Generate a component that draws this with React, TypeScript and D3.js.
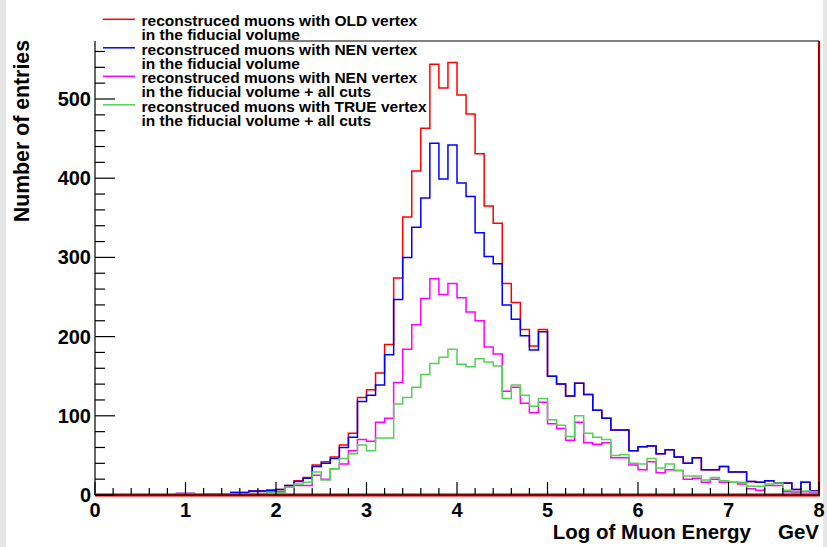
import React from 'react';
import * as d3 from 'd3';

const binEdges = d3.range(81).map((i) => i / 10);
const xTickValues = [0, 1, 2, 3, 4, 5, 6, 7, 8];
const yTickValues = [0, 100, 200, 300, 400, 500];

const oldVertex = [
  0, 0, 0, 0, 0, 0, 0, 0, 0, 2,
  2, 0, 1, 1, 1, 3, 3, 5, 5, 6,
  7, 12, 18, 22, 38, 42, 48, 63, 78, 123,
  133, 154, 190, 274, 351, 409, 463, 544, 514, 546,
  505, 481, 431, 365, 343, 267, 243, 209, 188, 209,
  150, 140, 125, 141, 127, 107, 97, 82, 82, 56,
  61, 62, 52, 57, 48, 40, 47, 32, 32, 36,
  29, 29, 17, 16, 18, 15, 15, 7, 16, 5,
];
const nenVertex = [
  0, 0, 0, 0, 0, 0, 0, 0, 0, 2,
  2, 0, 1, 1, 1, 3, 3, 5, 5, 6,
  7, 12, 17, 21, 36, 40, 46, 60, 73, 118,
  126, 139, 177, 247, 300, 338, 375, 444, 399, 442,
  394, 377, 331, 301, 292, 240, 222, 201, 183, 206,
  150, 140, 125, 141, 127, 107, 97, 82, 82, 56,
  61, 62, 52, 57, 48, 40, 47, 32, 32, 36,
  29, 29, 17, 16, 18, 15, 15, 7, 16, 5,
];
const nenVertexCuts = [
  0, 0, 0, 0, 0, 0, 0, 0, 0, 1,
  1, 0, 0, 1, 0, 1, 1, 2, 2, 4,
  4, 10, 12, 12, 25, 20, 33, 39, 56, 70,
  68, 92, 97, 142, 184, 215, 248, 273, 253, 267,
  249, 231, 220, 187, 178, 131, 136, 116, 104, 117,
  90, 84, 69, 92, 66, 64, 66, 47, 47, 38,
  32, 42, 28, 32, 31, 20, 21, 16, 20, 16,
  16, 14, 8, 6, 12, 12, 4, 3, 4, 3,
];
const trueVertexCuts = [
  0, 0, 0, 0, 0, 0, 0, 0, 0, 1,
  1, 1, 1, 1, 1, 1, 1, 2, 2, 3,
  3, 10, 14, 16, 29, 19, 33, 46, 52, 63,
  56, 72, 72, 115, 123, 136, 152, 166, 174, 184,
  165, 162, 172, 168, 163, 122, 139, 126, 112, 122,
  95, 88, 74, 100, 78, 73, 70, 50, 51, 40,
  39, 46, 34, 39, 31, 24, 24, 19, 22, 18,
  16, 16, 11, 11, 14, 15, 6, 4, 5, 4,
];

const seriesValues = [oldVertex, nenVertex, nenVertexCuts, trueVertexCuts];
const seriesColors = ['#ff0000', '#0000ff', '#ff00ff', '#55d055'];
const legendLine1 = [
  'reconstruced muons with OLD vertex',
  'reconstruced muons with NEN vertex',
  'reconstruced muons with NEN vertex',
  'reconstruced muons with TRUE vertex',
];
const legendLine2 = [
  'in the fiducial volume',
  'in the fiducial volume',
  'in the fiducial volume + all cuts',
  'in the fiducial volume + all cuts',
];

const W = 827;
const H = 547;
const FONT = "'Liberation Sans', Arial, Helvetica, sans-serif";

export default function App() {
  const x = d3.scaleLinear().domain([0, 8]).range([95, 819]);
  const y = d3.scaleLinear().domain([0, 500]).range([495, 99]);
  const yTop = 41;

  const line = d3
    .line<[number, number]>()
    .x((d) => x(d[0]))
    .y((d) => y(d[1]))
    .curve(d3.curveStepAfter);

  const paths = seriesValues.map((vals) => {
    const pts: [number, number][] = [[0, 0]];
    vals.forEach((v, i) => pts.push([binEdges[i], v]));
    pts.push([8, vals[vals.length - 1]]);
    pts.push([8, 0]);
    return line(pts) || '';
  });

  const yMinor = d3.range(0, 561, 20).filter((v) => v % 100 !== 0);
  const xMinor = d3.range(0, 8.001, 0.2).filter((v) => Math.abs(v - Math.round(v)) > 1e-6);

  return (
    <svg
      width={W}
      height={H}
      style={{ position: 'absolute', left: 0, top: 0, background: '#fff' }}
      fontFamily={FONT}
      fontWeight="bold"
    >
      <rect x={0} y={0} width={W} height={H} fill="#fff" />
      <rect x={0} y={0} width={6} height={H} fill="#e6e6e6" />
      <rect x={823} y={0} width={4} height={H} fill="#e6e6e6" />

      {paths.map((p, i) => (
        <path key={i} d={p} fill="none" stroke={seriesColors[i]} strokeWidth={1.5} />
      ))}

      {/* frame */}
      <line x1={278} x2={819} y1={yTop} y2={yTop} stroke="#000" strokeWidth={1.2} />
      <line x1={819} x2={819} y1={yTop} y2={495} stroke="#a00000" strokeWidth={2.2} />
      <line x1={95} x2={95} y1={yTop} y2={495} stroke="#000" strokeWidth={1.2} />
      <line x1={95} x2={820} y1={495} y2={495} stroke="#ff3030" strokeWidth={3.5} />
      <line x1={95} x2={820} y1={495} y2={495} stroke="#400000" strokeWidth={1.5} />

      {/* y ticks */}
      {yTickValues.map((v) => (
        <line key={'ym' + v} x1={95} x2={115} y1={y(v)} y2={y(v)} stroke="#000" strokeWidth={1.2} />
      ))}
      {yMinor.map((v) => (
        <line key={'yn' + v} x1={95} x2={105} y1={y(v)} y2={y(v)} stroke="#000" strokeWidth={1.2} />
      ))}
      {yTickValues.map((v) => (
        <text key={'yl' + v} x={91} y={y(v) + 7} textAnchor="end" fontSize={20} fill="#000">
          {v}
        </text>
      ))}

      {/* x ticks */}
      {xTickValues.map((v) => (
        <line key={'xm' + v} x1={x(v)} x2={x(v)} y1={495} y2={482} stroke="#000" strokeWidth={1.2} />
      ))}
      {xMinor.map((v, i) => (
        <line key={'xn' + i} x1={x(v)} x2={x(v)} y1={495} y2={488} stroke="#000" strokeWidth={1.2} />
      ))}
      {xTickValues.map((v) => (
        <text key={'xl' + v} x={x(v)} y={517} textAnchor="middle" fontSize={20} fill="#000">
          {v}
        </text>
      ))}

      {/* axis titles */}
      <text x={819} y={539} textAnchor="end" fontSize={20.5} fill="#000">
        Log of Muon Energy<tspan dx={27}>GeV</tspan>
      </text>
      <text
        transform="translate(29,40) rotate(-90)"
        textAnchor="end"
        fontSize={21.3}
        fill="#000"
      >
        Number of entries
      </text>

      {/* legend */}
      {legendLine1.map((t, k) => (
        <g key={'lg' + k}>
          <line
            x1={103}
            x2={135}
            y1={19.3 + 28.5 * k}
            y2={19.3 + 28.5 * k}
            stroke={seriesColors[k]}
            strokeWidth={1.5}
          />
          <text x={141.5} y={26.3 + 28.5 * k} fontSize={15.5} fill="#000">
            {t}
          </text>
          <text x={141.5} y={40 + 28.5 * k} fontSize={15.5} fill="#000">
            {legendLine2[k]}
          </text>
        </g>
      ))}
    </svg>
  );
}
